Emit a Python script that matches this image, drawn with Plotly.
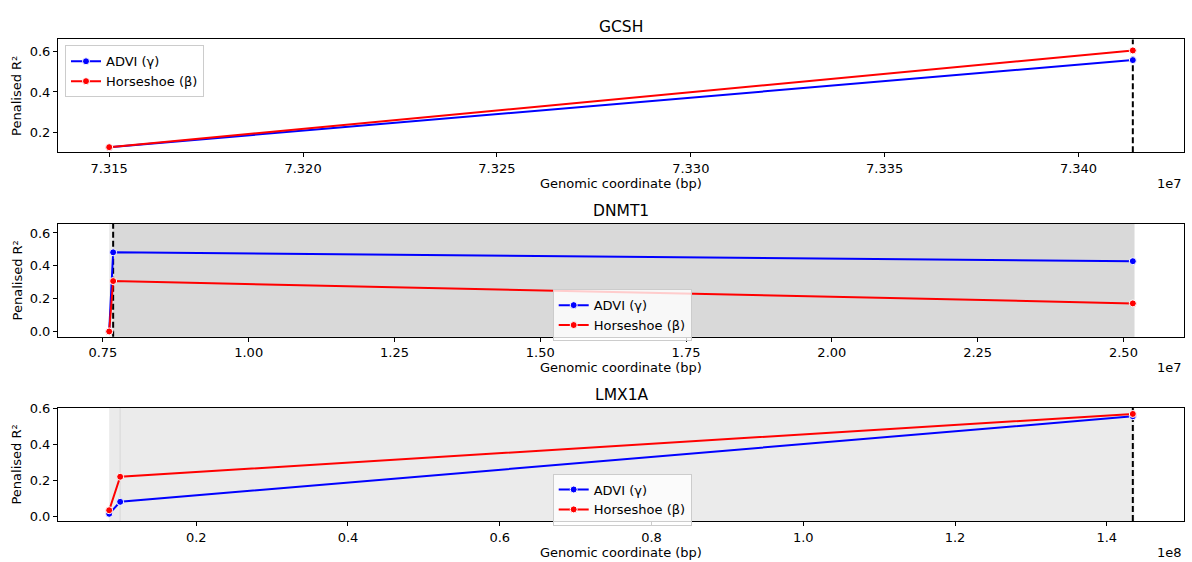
import plotly.graph_objects as go

# ---------------- data ----------------
genes = ["GCSH", "DNMT1", "LMX1A"]

gcsh_pos = [73150000, 73414000]
gcsh_advi = [0.125, 0.559]
gcsh_hs = [0.125, 0.607]
gcsh_tss = 73414000

dnmt1_pos = [7608000, 7676000, 25161000]
dnmt1_advi = [0.0, 0.482, 0.428]
dnmt1_hs = [0.0, 0.307, 0.171]
dnmt1_tss = 7676000
dnmt1_span_light = [7608000, 25188000]
dnmt1_span_dark = [7676000, 25188000]

lmx1a_pos = [8530000, 9980000, 143430000]
lmx1a_advi = [0.013, 0.080, 0.558]
lmx1a_hs = [0.033, 0.220, 0.571]
lmx1a_tss = 143430000
lmx1a_span_light = [8530000, 143640000]
lmx1a_span_dark = [9880000, 10080000]

gcsh_xticks = [73150000, 73200000, 73250000, 73300000, 73350000, 73400000]
gcsh_xticklabels = ["7.315", "7.320", "7.325", "7.330", "7.335", "7.340"]
dnmt1_xticks = [7500000, 10000000, 12500000, 15000000, 17500000, 20000000, 22500000, 25000000]
dnmt1_xticklabels = ["0.75", "1.00", "1.25", "1.50", "1.75", "2.00", "2.25", "2.50"]
lmx1a_xticks = [20000000, 40000000, 60000000, 80000000, 100000000, 120000000, 140000000]
lmx1a_xticklabels = ["0.2", "0.4", "0.6", "0.8", "1.0", "1.2", "1.4"]
gcsh_yticks = [0.2, 0.4, 0.6]
gcsh_yticklabels = ["0.2", "0.4", "0.6"]
other_yticks = [0.0, 0.2, 0.4, 0.6]
other_yticklabels = ["0.0", "0.2", "0.4", "0.6"]
offsets = ["1e7", "1e7", "1e8"]

# ---------------- layout constants ----------------
W, H = 1192, 562
FONT = "DejaVu Sans"
x_dom = [58 / W, 1184 / W]
panels_px = [(33, 148), (221, 335.7), (408.3, 523.3)]  # top, bottom in px
y_ranges = [[0.099, 0.662], [-0.032, 0.654], [-0.027, 0.604]]
title_y = [20, 208, 395]
xlabel_y = [180, 367.5, 555]
legend_pos = [(65, 39), (552.7, 287.3), (552.7, 475)]

def py(v):
    return (H - v) / H

def margin_range(p):
    lo, hi = min(p), max(p)
    d = hi - lo
    return [lo - 0.05 * d, hi + 0.05 * d]

fig = go.Figure()

data = [
    (gcsh_pos, gcsh_advi, gcsh_hs, gcsh_xticks, gcsh_xticklabels, gcsh_yticks, gcsh_yticklabels),
    (dnmt1_pos, dnmt1_advi, dnmt1_hs, dnmt1_xticks, dnmt1_xticklabels, other_yticks, other_yticklabels),
    (lmx1a_pos, lmx1a_advi, lmx1a_hs, lmx1a_xticks, lmx1a_xticklabels, other_yticks, other_yticklabels),
]

annotations = []
shapes = []

for i, (pos, advi, hs, xt, xtl, yt, ytl) in enumerate(data):
    n = "" if i == 0 else str(i + 1)
    xa, ya = "x" + n, "y" + n
    leg = "legend" + n
    for name, vals, col in [("ADVI (γ)", advi, "blue"), ("Horseshoe (β)", hs, "red")]:
        fig.add_trace(go.Scatter(
            x=pos, y=vals, mode="lines+markers", name=name,
            line=dict(color=col, width=2),
            marker=dict(color=col, size=7, line=dict(color="white", width=1)),
            xaxis=xa, yaxis=ya, legend=leg, showlegend=True,
        ))
    top, bot = panels_px[i]
    axis_common = dict(
        showline=True, linecolor="black", linewidth=1, mirror=True,
        showgrid=False, zeroline=False, ticks="outside", ticklen=4,
        tickwidth=1, tickcolor="black",
        tickfont=dict(family=FONT, size=13, color="black"),
    )
    fig.update_layout(**{
        "xaxis" + n: dict(domain=x_dom, anchor=ya, range=margin_range(pos),
                          tickmode="array", tickvals=xt, ticktext=xtl, **axis_common),
        "yaxis" + n: dict(domain=[py(bot), py(top)], anchor=xa, range=y_ranges[i],
                          tickmode="array", tickvals=yt, ticktext=ytl, **axis_common),
        leg: dict(x=legend_pos[i][0] / W, y=py(legend_pos[i][1]), xanchor="left", yanchor="top",
                  bgcolor="rgba(255,255,255,0.8)", bordercolor="#cccccc", borderwidth=1,
                  font=dict(family=FONT, size=13, color="black"), tracegroupgap=0,
                  itemwidth=30),
    })
    annotations.append(dict(text=genes[i], x=0.5 * (x_dom[0] + x_dom[1]), y=py(title_y[i]),
                            xref="paper", yref="paper", showarrow=False,
                            font=dict(family=FONT, size=15.5, color="black"),
                            xanchor="center", yanchor="middle"))
    annotations.append(dict(text="Genomic coordinate (bp)", x=0.5 * (x_dom[0] + x_dom[1]),
                            y=py(xlabel_y[i]), xref="paper", yref="paper", showarrow=False,
                            font=dict(family=FONT, size=13, color="black"),
                            xanchor="center", yanchor="middle"))
    annotations.append(dict(text=offsets[i], x=x_dom[1], y=py(xlabel_y[i]),
                            xref="paper", yref="paper", showarrow=False,
                            font=dict(family=FONT, size=13, color="black"),
                            xanchor="right", yanchor="middle"))
    annotations.append(dict(text="Penalised R²", x=17 / W, y=py((top + bot) / 2),
                            xref="paper", yref="paper", showarrow=False, textangle=-90,
                            font=dict(family=FONT, size=13, color="black"),
                            xanchor="center", yanchor="middle"))

def span(xref, yref, rng, color):
    return dict(type="rect", xref=xref, yref=yref + " domain", x0=rng[0], x1=rng[1],
                y0=0, y1=1, fillcolor=color, line=dict(width=0), layer="below")

def vline(xref, yref, xv):
    return dict(type="line", xref=xref, yref=yref + " domain", x0=xv, x1=xv, y0=0, y1=1,
                line=dict(color="black", width=2, dash="6px,3px"), layer="below")

shapes.append(span("x2", "y2", dnmt1_span_light, "#ebebeb"))
shapes.append(span("x2", "y2", dnmt1_span_dark, "#d9d9d9"))
shapes.append(span("x3", "y3", lmx1a_span_light, "#ebebeb"))
shapes.append(span("x3", "y3", lmx1a_span_dark, "#dedede"))
shapes.append(vline("x", "y", gcsh_tss))
shapes.append(vline("x2", "y2", dnmt1_tss))
shapes.append(vline("x3", "y3", lmx1a_tss))

fig.update_layout(
    width=W, height=H, margin=dict(l=0, r=0, t=0, b=0),
    paper_bgcolor="white", plot_bgcolor="white",
    font=dict(family=FONT, size=13, color="black"),
    annotations=annotations, shapes=shapes, hovermode=False,
)

fig.write_html("out.html")
